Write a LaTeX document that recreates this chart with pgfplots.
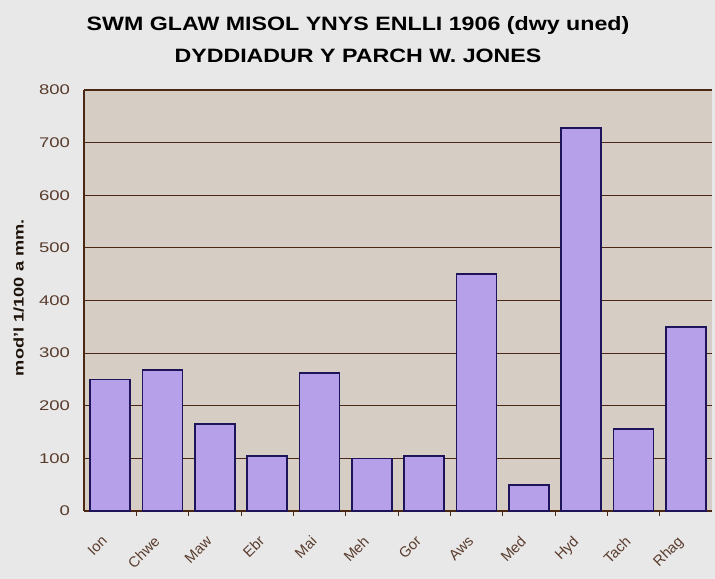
\documentclass[border=0pt]{standalone}
\usepackage{graphicx}
\usepackage{pgfplots}
\pgfplotsset{compat=1.18}
\usepackage{fontspec}
\setmainfont{Liberation Sans}
\definecolor{outerbg}{RGB}{232,232,232}
\definecolor{plotbg}{RGB}{214,205,196}
\definecolor{barfill}{RGB}{182,160,234}
\definecolor{bardraw}{RGB}{30,20,90}
\definecolor{gridc}{RGB}{75,40,20}
\definecolor{tickc}{RGB}{90,60,45}
\begin{document}
\begin{tikzpicture}
\fill[outerbg] (0pt,0pt) rectangle (536.25pt,434.25pt);
\node[font=\bfseries\fontsize{14.5}{16}\selectfont,anchor=base] at (268.5pt,411pt) {\scalebox{1.2}[1]{SWM GLAW MISOL YNYS ENLLI 1906 (dwy uned)}};
\node[font=\bfseries\fontsize{14.5}{16}\selectfont,anchor=base] at (268.5pt,387pt) {\scalebox{1.2}[1]{DYDDIADUR Y PARCH W. JONES}};
\node[font=\bfseries\fontsize{10.5}{12}\selectfont,rotate=90,text=black!85!brown] at (14pt,211pt) {\scalebox{1.3}[1]{mod'l 1/100 a mm.}};
\begin{axis}[
  at={(63pt,51pt)}, anchor=south west,
  scale only axis, width=471pt, height=315.75pt,
  xmin=-0.5, xmax=11.5, ymin=0, ymax=800,
  axis background/.style={fill=plotbg},
  axis line style={gridc, line width=0.8pt},
  axis x line*=bottom, axis y line*=left,
  ytick={0,100,...,800},
  yticklabel={\scalebox{1.32}[1]{\pgfmathprintnumber{\tick}}},
  ymajorgrids, grid style={gridc, line width=0.9pt},
  major tick length=5pt,
  tick style={gridc, line width=0.8pt},
  y tick label style={font=\fontsize{10.5}{11}\selectfont, text=tickc, xshift=-7pt},
  /pgf/number format/assume math mode=true,
  xtick={0,...,11},
  xticklabels={Ion,Chwe,Maw,Ebr,Mai,Meh,Gor,Aws,Med,Hyd,Tach,Rhag},
  x tick label style={font=\fontsize{11}{12}\selectfont, text=tickc, xshift=-7pt, yshift=-8pt, rotate=45, anchor=north east},
  x tick style={draw=none},
  minor xtick={0.5,1.5,...,10.5},
  minor tick length=4pt,
  minor x tick style={draw=gridc, line width=0.6pt},
  ybar, bar width=30pt,
  clip=false,
]
\addplot[fill=barfill, draw=bardraw, line width=1.3pt] coordinates {
(0,250) (1,268) (2,165) (3,105) (4,262) (5,100) (6,105) (7,450) (8,50) (9,728) (10,156) (11,350)};
\end{axis}
\end{tikzpicture}
\end{document}
